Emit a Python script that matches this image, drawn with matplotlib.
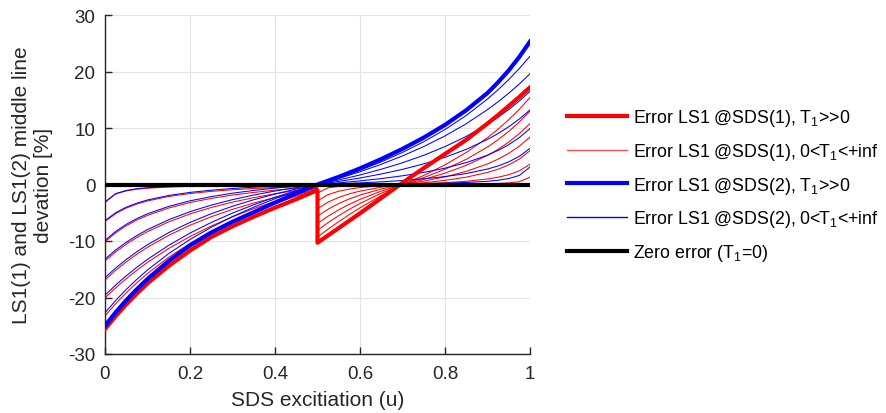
import matplotlib
matplotlib.use("Agg")
import matplotlib.pyplot as plt
from matplotlib.lines import Line2D

plt.rcParams['font.family'] = ['Liberation Sans', 'DejaVu Sans']
plt.rcParams['mathtext.fontset'] = 'custom'
plt.rcParams['mathtext.rm'] = 'Liberation Sans'
plt.rcParams['mathtext.it'] = 'Liberation Sans'
plt.rcParams['axes.unicode_minus'] = False

# ---------------- data ----------------
u_left = [0, 0.025, 0.05, 0.075, 0.1, 0.15, 0.2, 0.25, 0.3, 0.35, 0.4, 0.45, 0.5]
u_right_blue = [0.5, 0.55, 0.6, 0.65, 0.7, 0.75, 0.8, 0.85, 0.9, 0.925, 0.95, 0.975, 1.0]
u_right_red = [0.5, 0.525, 0.55, 0.575, 0.6, 0.65, 0.7, 0.75, 0.8, 0.85, 0.9, 0.925, 0.95, 0.975, 1.0]

# thick blue (SDS(2), T1>>0)
blue_thick_left = [-25.0, -22.64, -20.49, -18.53, -16.72, -13.52, -10.78, -8.5, -6.6, -4.9, -3.2, -1.6, 0]
blue_thick_right = [0, 1.35, 2.85, 4.5, 6.3, 8.3, 10.55, 13.15, 16.2, 18.1, 20.2, 22.6, 25.3]

# thick red (SDS(1), T1>>0)
red_thick_left = [-25.6, -23.3, -21.2, -19.3, -17.5, -14.4, -11.7, -9.3, -7.4, -5.7, -4.1, -2.6, -1.0]
red_thick_right = [-10.3, -9.0, -7.7, -6.4, -5.1, -2.4, 0.3, 2.9, 5.4, 7.9, 10.8, 12.3, 13.9, 15.5, 17.2]

# thin blue curves, left half
blue_thin_left = [
    [-3.1, -1.61, -1.05, -0.75, -0.57, -0.36, -0.24, -0.17, -0.11, -0.07, -0.04, -0.02, 0],
    [-6.4, -5.0, -4.01, -3.29, -2.74, -1.94, -1.40, -1.01, -0.71, -0.47, -0.29, -0.13, 0],
    [-9.9, -8.31, -7.05, -6.03, -5.19, -3.87, -2.89, -2.14, -1.54, -1.05, -0.64, -0.29, 0],
    [-13.2, -11.6, -10.23, -9.03, -7.98, -6.23, -4.81, -3.65, -2.68, -1.86, -1.15, -0.54, 0],
    [-16.5, -14.79, -13.27, -11.90, -10.66, -8.51, -6.71, -5.17, -3.85, -2.70, -1.69, -0.80, 0],
    [-19.6, -17.80, -16.16, -14.65, -13.25, -10.76, -8.60, -6.72, -5.06, -3.58, -2.26, -1.07, 0],
    [-22.7, -20.54, -18.57, -16.78, -15.13, -12.22, -9.73, -7.57, -5.68, -4.01, -2.52, -1.19, 0],
]
# thin blue curves, right half
blue_thin_right = [
    [0, 0.02, 0.04, 0.07, 0.11, 0.17, 0.24, 0.36, 0.57, 0.75, 1.05, 1.61, 3.1],
    [0, 0.13, 0.29, 0.47, 0.71, 1.01, 1.40, 1.94, 2.74, 3.29, 4.01, 5.0, 6.4],
    [0, 0.29, 0.64, 1.05, 1.54, 2.14, 2.89, 3.87, 5.19, 6.03, 7.05, 8.31, 9.9],
    [0, 0.54, 1.15, 1.86, 2.68, 3.65, 4.81, 6.23, 7.98, 9.03, 10.23, 11.6, 13.2],
    [0, 0.80, 1.69, 2.70, 3.85, 5.17, 6.71, 8.51, 10.66, 11.90, 13.27, 14.79, 16.5],
    [0, 1.07, 2.26, 3.58, 5.06, 6.72, 8.60, 10.76, 13.25, 14.65, 16.16, 17.80, 19.6],
    [0, 1.19, 2.52, 4.01, 5.68, 7.57, 9.73, 12.22, 15.13, 16.78, 18.57, 20.54, 22.7],
]
# thin red curves, left half
red_thin_left = [
    [-3.17, -1.69, -1.13, -0.83, -0.65, -0.45, -0.33, -0.27, -0.21, -0.18, -0.15, -0.14, -0.12],
    [-6.55, -5.16, -4.17, -3.46, -2.91, -2.12, -1.60, -1.22, -0.93, -0.70, -0.53, -0.38, -0.26],
    [-10.14, -8.56, -7.30, -6.29, -5.46, -4.16, -3.19, -2.46, -1.87, -1.40, -1.00, -0.67, -0.40],
    [-13.52, -11.93, -10.57, -9.38, -8.34, -6.61, -5.21, -4.07, -3.12, -2.33, -1.64, -1.05, -0.53],
    [-16.90, -15.20, -13.69, -12.34, -11.11, -8.99, -7.21, -5.70, -4.40, -3.28, -2.30, -1.43, -0.66],
    [-20.07, -18.29, -16.66, -15.17, -13.78, -11.32, -9.20, -7.35, -5.72, -4.27, -2.98, -1.82, -0.78],
    [-23.25, -21.10, -19.15, -17.38, -15.75, -12.87, -10.42, -8.30, -6.44, -4.81, -3.36, -2.06, -0.91],
]
# thin red curves, right half
red_thin_right = [
    [-1.5, -0.58, -0.32, -0.20, -0.125, -0.044, 0, 0.015, 0.036, 0.07, 0.13, 0.19, 0.29, 0.50, 1.3],
    [-2.9, -1.79, -1.19, -0.81, -0.54, -0.21, 0, 0.13, 0.31, 0.57, 0.98, 1.29, 1.74, 2.42, 3.6],
    [-4.3, -3.11, -2.28, -1.65, -1.17, -0.48, 0, 0.31, 0.73, 1.30, 2.13, 2.71, 3.47, 4.51, 6.0],
    [-5.6, -4.36, -3.36, -2.55, -1.87, -0.80, 0, 0.60, 1.35, 2.33, 3.64, 4.49, 5.52, 6.79, 8.4],
    [-6.9, -5.60, -4.48, -3.49, -2.63, -1.17, 0, 0.90, 2.01, 3.39, 5.15, 6.24, 7.51, 9.01, 10.8],
    [-8.1, -6.74, -5.50, -4.38, -3.35, -1.54, 0, 1.23, 2.69, 4.46, 6.64, 7.93, 9.40, 11.07, 13.0],
    [-9.3, -7.89, -6.57, -5.31, -4.13, -1.96, 0, 1.61, 3.48, 5.67, 8.29, 9.80, 11.47, 13.32, 15.4],
]

zero_u = [0, 1]
zero_err = [0, 0]

x_ticks = [0, 0.2, 0.4, 0.6, 0.8, 1]
x_tick_labels = ['0', '0.2', '0.4', '0.6', '0.8', '1']
y_ticks = [-30, -20, -10, 0, 10, 20, 30]

legend_labels = [
    'Error LS1 @SDS(1), T$_1$>>0',
    'Error LS1 @SDS(1), 0<T$_1$<+inf',
    'Error LS1 @SDS(2), T$_1$>>0',
    'Error LS1 @SDS(2), 0<T$_1$<+inf',
    'Zero error (T$_1$=0)',
]

# ---------------- plot ----------------
fig = plt.figure(figsize=(8.86, 4.14), dpi=100)
ax = fig.add_axes([105 / 886, 1 - 355 / 414, 425 / 886, 339 / 414])

RED = '#ff0000'
BLUE = '#0000ff'
thin_lw = 0.75
thick_lw = 3.0

for yl, yr in zip(red_thin_left, red_thin_right):
    ax.plot(u_left + u_right_red, yl + yr, color=RED, lw=thin_lw, zorder=2)
for yl, yr in zip(blue_thin_left, blue_thin_right):
    ax.plot(u_left + u_right_blue, yl + yr, color=BLUE, lw=thin_lw, zorder=3)
ax.plot(u_left + u_right_red, red_thick_left + red_thick_right,
        color=RED, lw=thick_lw, zorder=4, solid_joinstyle='round')
ax.plot(u_left + u_right_blue, blue_thick_left + blue_thick_right,
        color=BLUE, lw=thick_lw, zorder=5, solid_joinstyle='round')
ax.plot(zero_u, zero_err, color='black', lw=thick_lw, zorder=6)

ax.set_xlim(0, 1)
ax.set_ylim(-30, 30)
ax.set_xticks(x_ticks)
ax.set_xticklabels(x_tick_labels)
ax.set_yticks(y_ticks)

ax.grid(True, color='#e3e3e3', lw=0.8)
ax.set_axisbelow(True)
for s in ['top', 'right']:
    ax.spines[s].set_visible(False)
for s in ['left', 'bottom']:
    ax.spines[s].set_color('#262626')
    ax.spines[s].set_linewidth(1.0)
ax.tick_params(direction='in', length=5, width=1.0, colors='#262626',
               labelsize=13.5)
ax.tick_params(axis='x', pad=8)
ax.tick_params(axis='y', pad=7)

ax.set_xlabel('SDS excitiation (u)', fontsize=15, color='#262626', labelpad=6)
ax.set_ylabel('LS1(1) and LS1(2) middle line\ndevation [%]', fontsize=15,
              color='#262626', labelpad=11, linespacing=1.15)

handles = [
    Line2D([], [], color=RED, lw=3.0),
    Line2D([], [], color='#ff5050', lw=1.0),
    Line2D([], [], color=BLUE, lw=3.0),
    Line2D([], [], color=BLUE, lw=1.0),
    Line2D([], [], color='black', lw=3.0),
]
leg = fig.legend(handles, legend_labels, loc='upper left',
                 bbox_to_anchor=(567 / 886, 1 - 108 / 414),
                 frameon=False, fontsize=12.8, handlelength=3.4, handletextpad=0.3,
                 labelspacing=0.72, borderaxespad=0, borderpad=0)

fig.savefig('out.png', dpi=100)
